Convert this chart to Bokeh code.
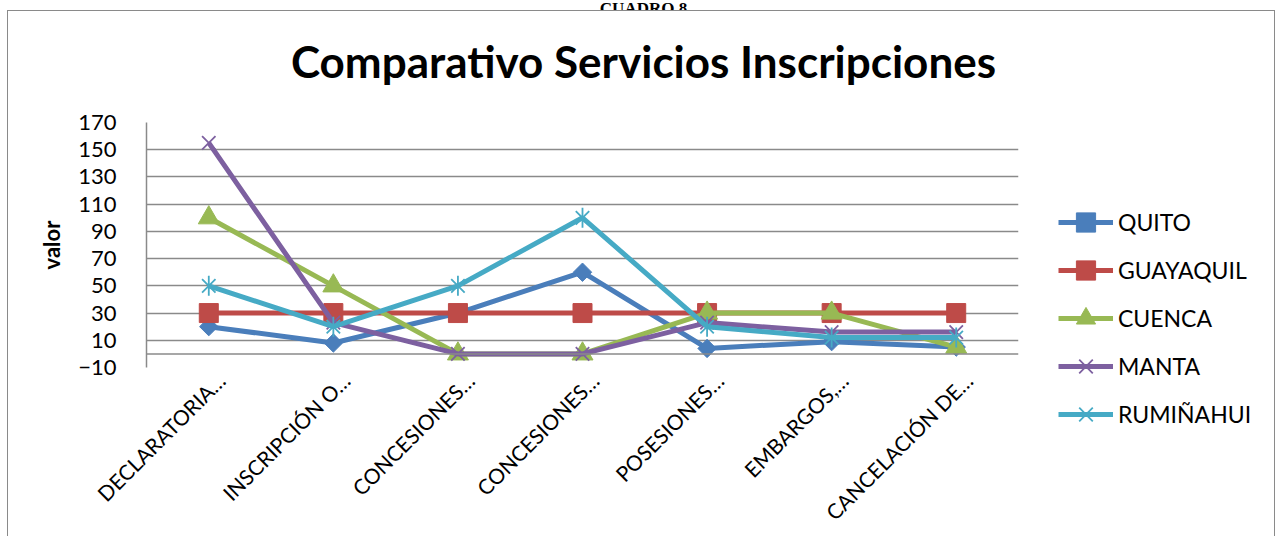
from math import pi
from bokeh.plotting import figure
from bokeh.layouts import column, row
from bokeh.models import Legend, LegendItem, Span, FixedTicker, Label, LinearAxis, Range1d
from bokeh.embed import file_html
from bokeh.resources import INLINE

categories = ["DECLARATORIA…", "INSCRIPCIÓN O…", "CONCESIONES…", "CONCESIONES…",
              "POSESIONES…", "EMBARGOS,…", "CANCELACIÓN DE…"]
quito = [20, 8, 30, 60, 4, 9, 5]
guayaquil = [30, 30, 30, 30, 30, 30, 30]
cuenca = [100, 50, 0, 0, 30, 30, 5]
manta = [155, 23, 0, 0, 23, 16, 16]
rumi = [50, 20, 50, 100, 20, 12, 12]
y_ticks = [-10, 10, 30, 50, 70, 90, 110, 130, 150, 170]
series_names = ["QUITO", "GUAYAQUIL", "CUENCA", "MANTA", "RUMIÑAHUI"]
title_text = "Comparativo Servicios Inscripciones"
header_text = "CUADRO 8"

xs = list(range(1, len(categories) + 1))
FONT = "Lato"
GRID = "#8a8a8a"
colors = ["#4A7EBB", "#BE4B48", "#98B954", "#7D60A0", "#46AAC5"]
LW = 5


def blank(fig):
    fig.axis.visible = False
    fig.grid.grid_line_color = None
    fig.outline_line_color = None
    fig.min_border = 0
    fig.background_fill_color = "white"
    fig.border_fill_color = "white"


# header (cut at the top, as in the source page)
hfig = figure(width=1278, height=10, x_range=(0, 1278), y_range=(0, 10),
              output_backend="svg", toolbar_location=None)
blank(hfig)
hfig.add_layout(Label(x=643, y=4, text=header_text, text_align="center",
                      text_baseline="alphabetic", text_font="Liberation Serif",
                      text_font_style="bold", text_font_size="17px", text_color="black"))

# title strip
tfig = figure(width=1266, height=96, x_range=(0, 1266), y_range=(0, 96),
              output_backend="svg", toolbar_location=None)
blank(tfig)
tfig.add_layout(Label(x=635, y=47, text=title_text, text_align="center",
                      text_baseline="middle", text_font=FONT, text_font_style="bold",
                      text_font_size="44px", text_color="black"))

# main chart
x_lo, x_hi = 0.5, len(categories) + 0.5
p = figure(width=1020, height=429, x_range=(x_lo, x_hi), y_range=(-10, 170),
           output_backend="svg", toolbar_location=None, x_axis_location=None,
           min_border_left=138, min_border_right=10, min_border_top=15, min_border_bottom=168)
p.outline_line_color = None
p.background_fill_color = "white"
p.border_fill_color = "white"

# category labels: Excel places the rotated labels slightly right of the category centre
shift = 0.1
p.extra_x_ranges = {"labels": Range1d(x_lo - shift, x_hi - shift)}
xaxis = LinearAxis(x_range_name="labels")
xaxis.ticker = FixedTicker(ticks=xs)
xaxis.major_label_overrides = {x: c for x, c in zip(xs, categories)}
xaxis.major_label_orientation = pi / 4
xaxis.major_label_text_font = FONT
xaxis.major_label_text_font_size = "21px"
xaxis.major_label_text_color = "black"
xaxis.major_label_standoff = 3
xaxis.major_tick_line_color = None
xaxis.minor_tick_line_color = None
xaxis.axis_line_color = None
p.add_layout(xaxis, "below")
p.xgrid.grid_line_color = None

p.yaxis.ticker = FixedTicker(ticks=y_ticks)
p.yaxis.major_label_text_font = FONT
p.yaxis.major_label_text_font_size = "22px"
p.yaxis.major_label_text_color = "black"
p.yaxis.major_label_standoff = 24
p.yaxis.major_tick_line_color = None
p.yaxis.minor_tick_line_color = None
p.yaxis.axis_line_color = GRID
p.yaxis.axis_line_width = 1.5
p.yaxis.axis_label = "valor"
p.yaxis.axis_label_text_font = FONT
p.yaxis.axis_label_text_font_style = "bold"
p.yaxis.axis_label_text_font_size = "22px"
p.yaxis.axis_label_text_color = "black"
p.yaxis.axis_label_standoff = 10
p.ygrid.ticker = FixedTicker(ticks=y_ticks)
p.ygrid.grid_line_color = GRID
p.ygrid.grid_line_width = 1.5
p.add_layout(Span(location=0, dimension="width", line_color=GRID, line_width=1.5))

# legend panel (its glyph renderers hold points placed outside its visible range)
lf = figure(width=246, height=429, x_range=(0, 1), y_range=(0, 1),
            output_backend="svg", toolbar_location=None)
blank(lf)
lf.frame_align = False


def draw(fig, xv, yv, i):
    c = colors[i]
    rs = [fig.line(xv, yv, line_color=c, line_width=LW)]
    if i == 0:
        rs.append(fig.scatter(xv, yv, marker="square", angle=pi / 4, size=13, fill_color=c, line_color=c))
    elif i == 1:
        rs.append(fig.scatter(xv, yv, marker="square", size=19, fill_color=c, line_color=c))
    elif i == 2:
        rs.append(fig.scatter(xv, yv, marker="triangle", size=21, fill_color=c, line_color=c))
    elif i == 3:
        rs.append(fig.scatter(xv, yv, marker="x", size=19, line_color=c, line_width=1.8))
    else:
        rs.append(fig.scatter(xv, yv, marker="x", size=19, line_color=c, line_width=1.8))
        rs.append(fig.scatter(xv, yv, marker="dash", angle=pi / 2, size=20, line_color=c, line_width=1.8))
    return rs


all_series = [quito, guayaquil, cuenca, manta, rumi]
items = []
for i, (name, vals) in enumerate(zip(series_names, all_series)):
    draw(p, xs, vals, i)
    items.append(LegendItem(label=name, renderers=draw(lf, [-9, -8], [-9, -8], i)))

legend = Legend(items=items, location=(30, 98), orientation="vertical",
                glyph_width=55, glyph_height=48, label_height=48, spacing=0,
                label_standoff=5, padding=0, margin=0,
                label_text_font=FONT, label_text_font_size="23px", label_text_color="black",
                border_line_color=None, background_fill_alpha=0)
lf.add_layout(legend, "center")

inner = column(tfig, row(p, lf, spacing=0), spacing=0)
inner.styles = {"border-left": "1px solid #8a8a8a", "border-top": "1px solid #8a8a8a",
                "border-right": "1px solid #8a8a8a", "margin-left": "7px"}
page = column(hfig, inner, spacing=0)

open("out.html", "w").write(file_html(page, INLINE))
